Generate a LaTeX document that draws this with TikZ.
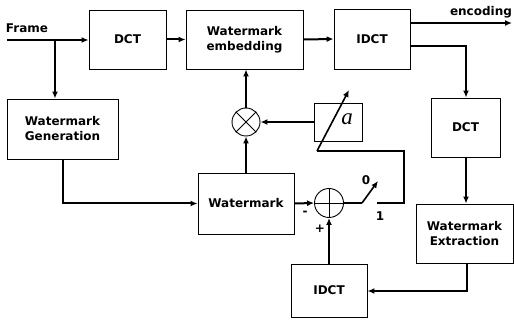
\documentclass[tikz,border=0pt]{standalone}
\usepackage{fontspec}
\setmainfont{DejaVu Sans}
\newfontfamily\alphafont{Liberation Serif}
\usetikzlibrary{arrows.meta}
\begin{document}
\begin{tikzpicture}[x=1pt,y=-1pt,
  blk/.style={draw,line width=0.9pt,inner sep=0pt,align=center,font=\fontsize{12}{15}\selectfont\bfseries},
  conn/.style={line width=2pt,-{Latex[length=7pt,width=6pt]}},
  plain/.style={line width=2pt},
  lbl/.style={font=\fontsize{12}{13}\selectfont\bfseries,inner sep=0pt}]
\useasboundingbox (0,0) rectangle (514,320);
\node[blk,minimum width=77pt,minimum height=59pt] (dct1) at (127.5,39.5) {DCT};
\node[blk,minimum width=117pt,minimum height=59pt] (emb) at (244.5,39.5) {Watermark\\embedding};
\node[blk,minimum width=76pt,minimum height=60pt] (idct1) at (372,39) {IDCT};
\node[blk,minimum width=111pt,minimum height=60pt] (wgen) at (62.5,129) {Watermark\\Generation};
\node[blk,minimum width=96pt,minimum height=61pt] (wm) at (246,203.5) {Watermark};
\node[draw,line width=0.9pt,minimum width=48pt,minimum height=38pt,inner sep=0pt] (alpha) at (338,122) {};
\node[inner sep=0pt,font=\fontsize{23}{23}\selectfont\alphafont\itshape] (alab) at (347,119) {a};
\node[blk,minimum width=69pt,minimum height=59pt] (dct2) at (465.5,127.5) {DCT};
\node[blk,minimum width=97pt,minimum height=59pt] (wext) at (464.5,233.5) {Watermark\\Extraction};
\node[blk,minimum width=76pt,minimum height=53pt] (idct2) at (329,290.5) {IDCT};
\node[draw,circle,line width=0.9pt,minimum size=28pt,inner sep=0pt] (mult) at (246,122) {};
\draw[line width=0.9pt] (mult.north west) -- (mult.south east) (mult.north east) -- (mult.south west);
\node[draw,circle,line width=0.9pt,minimum size=29pt,inner sep=0pt] (sum) at (329,203) {};
\draw[line width=0.9pt] (sum.north) -- (sum.south) (sum.west) -- (sum.east);
% labels
\node[lbl] (frame) at (27,28) {Frame};
\node[lbl] (enc) at (481,12) {encoding};
\node[lbl] (l0) at (366,180) {0};
\node[lbl] (l1) at (380,216) {1};
\node[lbl] (lm) at (305,213) {-};
\node[lbl] (lp) at (320,229) {+};
% coordinates
\coordinate (fs) at (7,40);
\coordinate (br) at (55,40);
\coordinate (encend) at (512,23);
\coordinate (r1) at (466,46);
\coordinate (r2) at (467,291);
\coordinate (g1) at (63,203.5);
\coordinate (sw1) at (362,203);
\coordinate (sw2) at (378,181);
\coordinate (c1) at (377,203);
\coordinate (c2) at (404,203);
\coordinate (c3) at (404,151);
\coordinate (c4) at (317,151);
\coordinate (c5) at (349,90);
% connectors
\draw[conn] (fs) -- (dct1.west |- fs);
\draw[conn] (br) -- (br |- wgen.north);
\draw[conn] (dct1.east) -- (emb.west);
\draw[conn] (emb.east) -- (idct1.west);
\draw[conn] (idct1.east |- encend) -- (encend);
\draw[conn] (idct1.east |- r1) -- (r1) -- (r1 |- dct2.north);
\draw[conn] (r1 |- dct2.south) -- (r1 |- wext.north);
\draw[conn] (r2 |- wext.south) -- (r2) -- (idct2.east |- r2);
\draw[conn] (idct2.north) -- (sum.south);
\draw[conn] (wm.east) -- (sum.west);
\draw[conn] (g1 |- wgen.south) -- (g1) -- (wm.west);
\draw[conn] (wm.north) -- (mult.south);
\draw[conn] (mult.north) -- (mult |- emb.south);
\draw[conn] (alpha.west) -- (mult.east);
\draw[plain] (sum.east) -- (sw1);
\draw[conn,line width=1.6pt] (sw1) -- (sw2);
\draw[plain] (c1) -- (c2) -- (c3) -- (c4);
\draw[conn,line width=1.6pt] (c4) -- (c5);
\end{tikzpicture}
\end{document}
